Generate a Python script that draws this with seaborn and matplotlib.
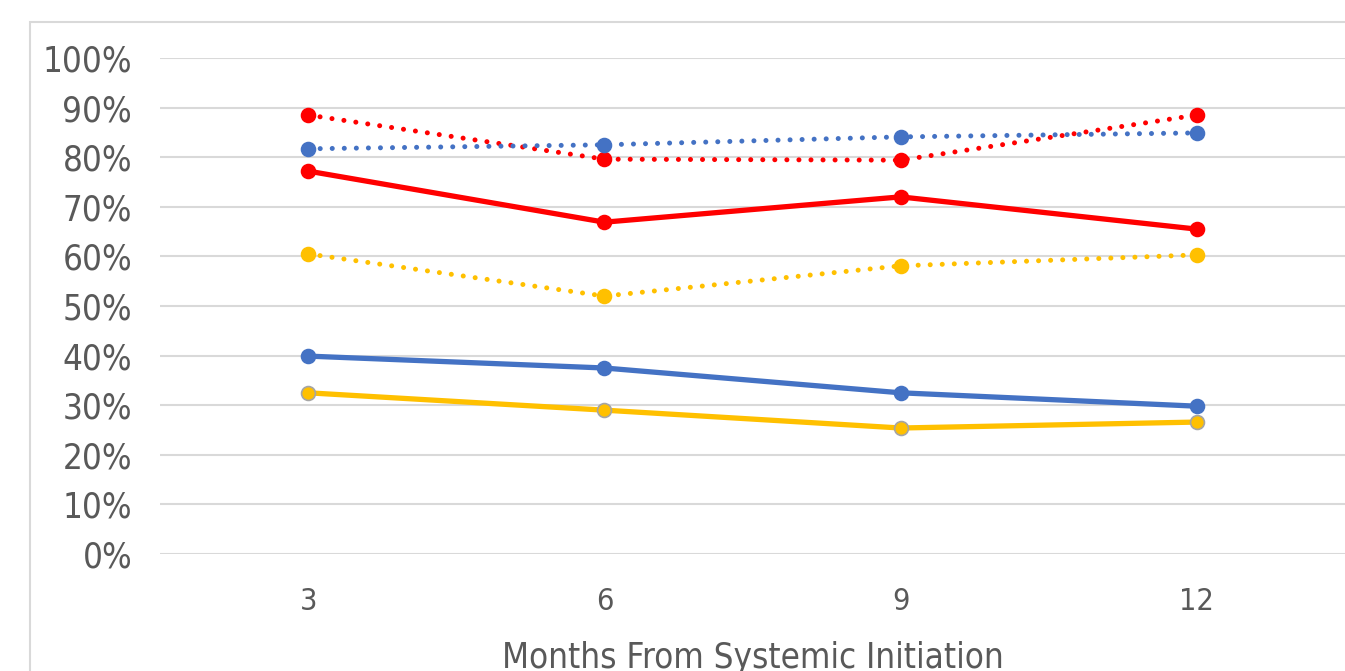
import matplotlib
matplotlib.use('Agg')
import matplotlib.pyplot as plt
import seaborn as sns
import pandas as pd
from matplotlib.patches import Rectangle
from matplotlib.ticker import PercentFormatter, MultipleLocator

sns.set_theme(style='white')
plt.rcParams['font.family'] = ['DejaVu Sans']
plt.rcParams['font.stretch'] = 'condensed'

# ---------- data ----------
months = ['3', '6', '9', '12']
red_dotted = [0.885, 0.796, 0.794, 0.885]
blue_dotted = [0.817, 0.825, 0.841, 0.849]
red_solid = [0.772, 0.669, 0.720, 0.655]
yellow_dotted = [0.605, 0.520, 0.581, 0.603]
blue_solid = [0.399, 0.375, 0.325, 0.298]
yellow_solid = [0.325, 0.290, 0.254, 0.266]

RED = '#FF0000'
BLUE = '#4472C4'
YELLOW = '#FFC000'
DOT = (0, (0.01, 2.4))

series = [
    (red_dotted, RED, DOT, 3.6, RED),
    (blue_dotted, BLUE, DOT, 3.6, BLUE),
    (yellow_dotted, YELLOW, DOT, 3.6, YELLOW),
    (red_solid, RED, '-', 3.8, RED),
    (blue_solid, BLUE, '-', 3.8, BLUE),
    (yellow_solid, YELLOW, '-', 3.8, '#A5A5A5'),
]

fig = plt.figure(figsize=(13.45, 6.71), dpi=100)
# light chart-area frame
fig.patches.append(Rectangle((30 / 1345, -0.1), 1.2, 1 - 22 / 671 + 0.1,
                             transform=fig.transFigure, fill=False,
                             edgecolor='#D9D9D9', linewidth=1.5))
ax = fig.add_axes([160 / 1345, 1 - 554 / 671, 1 - 160 / 1345, 496 / 671])

for vals, col, ls, lw, mec in series:
    df = pd.DataFrame({'month': months, 'value': vals})
    sns.lineplot(data=df, x='month', y='value', ax=ax, color=col,
                 linestyle=ls, linewidth=lw, marker='o', markersize=10,
                 markeredgecolor=mec, markeredgewidth=1.2,
                 dash_capstyle='round', solid_capstyle='round', sort=False)

ax.set_xlim(-0.5, 3.5)
ax.set_ylim(0, 1)
ax.yaxis.set_major_locator(MultipleLocator(0.1))
ax.yaxis.set_major_formatter(PercentFormatter(1.0, decimals=0))
ax.grid(axis='y', color='#D9D9D9', linewidth=1.5)
ax.set_axisbelow(True)
for s in ax.spines.values():
    s.set_visible(False)
ax.tick_params(axis='y', labelsize=25, labelcolor='#595959', length=0, pad=20)
ax.tick_params(axis='x', labelsize=22, labelcolor='#595959', length=0, pad=24)
ax.set_ylabel('')
ax.set_xlabel('Months From Systemic Initiation', fontsize=25, color='#595959',
              labelpad=18)

fig.savefig('out.png', dpi=100)
